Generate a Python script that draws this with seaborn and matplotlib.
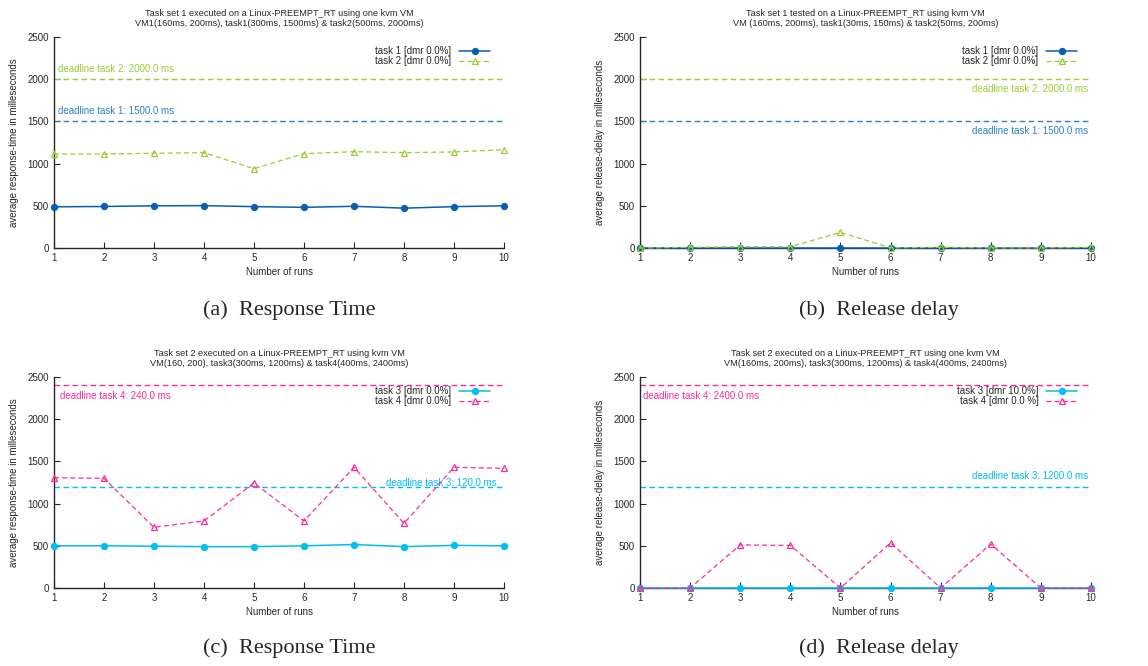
import matplotlib
matplotlib.use("Agg")
import matplotlib.pyplot as plt
import seaborn as sns
import pandas as pd

sns.set_style("ticks")
plt.rcParams['font.family'] = ['Liberation Sans', 'DejaVu Sans']

runs = list(range(1, 11))

# (a) response time, task set 1
rt_task1 = [488, 492, 500, 502, 490, 482, 494, 472, 490, 500]
rt_task2 = [1114, 1114, 1122, 1130, 940, 1118, 1141, 1130, 1138, 1165]
# (b) release delay, task set 1
rd_task1 = [0, 0, 0, 0, 0, 0, 0, 0, 0, 0]
rd_task2 = [0, 8, 15, 15, 185, 2, 8, 2, 2, 8]
# (c) response time, task set 2
rt_task3 = [500, 500, 495, 490, 490, 500, 515, 490, 505, 500]
rt_task4 = [1307, 1299, 719, 794, 1244, 794, 1430, 766, 1430, 1418]
# (d) release delay, task set 2
rd_task3 = [0, 0, 0, 0, 0, 0, 0, 0, 0, 0]
rd_task4 = [0, 0, 510, 505, 0, 535, 0, 520, 0, 0]

C_T1, C_D1 = "#0a5fad", "#2a80cc"
C_T2 = "#9acd32"
C_T3 = "#00bfef"
C_T4 = "#ff2a9a"

W, H = 1148, 666
fig = plt.figure(figsize=(W / 100, H / 100), dpi=100)


def make_ax(x0, y0, x1, y1):
    return fig.add_axes([x0 / W, 1 - y1 / H, (x1 - x0) / W, (y1 - y0) / H])


def draw(ax, title, ylabel, s1, s2, labels, colors, deadlines):
    df = pd.DataFrame({"run": runs, "a": s1, "b": s2})
    ax.axhline(deadlines[0][0], color=deadlines[0][1], lw=1, dashes=(4, 2.5))
    ax.axhline(deadlines[1][0], color=deadlines[1][1], lw=1, dashes=(4, 2.5))
    sns.lineplot(data=df, x="run", y="a", ax=ax, color=colors[0], lw=1.1,
                 marker="o", markersize=4.5, markeredgecolor=colors[0],
                 label=labels[0], clip_on=False, zorder=4)
    sns.lineplot(data=df, x="run", y="b", ax=ax, color=colors[1], lw=0.9,
                 marker="^", markersize=5, markerfacecolor="none",
                 markeredgecolor=colors[1], markeredgewidth=0.9,
                 label=labels[1], clip_on=False, zorder=4)
    ax.lines[-1].set_dashes((4, 2.5))
    ax.set_xlim(1, 10)
    ax.set_ylim(0, 2500)
    ax.set_xticks(runs)
    ax.set_yticks(range(0, 2501, 500))
    ax.tick_params(direction="in", length=4, labelsize=7, width=0.8)
    for s in ["top", "right"]:
        ax.spines[s].set_visible(False)
    for s in ["left", "bottom"]:
        ax.spines[s].set_linewidth(1.0)
    ax.set_title(title, fontsize=6.6, pad=8, linespacing=1.1)
    ax.set_xlabel("Number of runs", fontsize=7, labelpad=3)
    ax.set_ylabel(ylabel, fontsize=7, labelpad=6)
    leg = ax.legend(loc="upper right", frameon=False, markerfirst=False,
                    fontsize=7, handlelength=3.2, labelspacing=0.05,
                    borderaxespad=0.3, bbox_to_anchor=(0.985, 0.99))
    for t in leg.get_texts():
        t.set_ha("right")


ax_a = make_ax(54, 37, 504, 248)
draw(ax_a, "Task set 1 executed on a Linux-PREEMPT_RT using one kvm VM\n"
     "VM1(160ms, 200ms), task1(300ms, 1500ms) & task2(500ms, 2000ms)",
     "average response-time in milleseconds",
     rt_task1, rt_task2, ["task 1 [dmr 0.0%]", "task 2 [dmr 0.0%]"],
     [C_T1, C_T2], [(1500, C_D1), (2000, C_T2)])
ax_a.text(1.07, 2060, "deadline task 2: 2000.0 ms", color=C_T2, fontsize=7, va="bottom")
ax_a.text(1.07, 1560, "deadline task 1: 1500.0 ms", color=C_D1, fontsize=7, va="bottom")

ax_b = make_ax(640, 37, 1091, 248)
draw(ax_b, "Task set 1 tested on a Linux-PREEMPT_RT using kvm VM\n"
     "VM (160ms, 200ms), task1(30ms, 150ms) & task2(50ms, 200ms)",
     "average release-delay in milleseconds",
     rd_task1, rd_task2, ["task 1 [dmr 0.0%]", "task 2 [dmr 0.0%]"],
     [C_T1, C_T2], [(1500, C_D1), (2000, C_T2)])
ax_b.text(9.95, 1940, "deadline task 2: 2000.0 ms", color=C_T2, fontsize=7, va="top", ha="right")
ax_b.text(9.95, 1440, "deadline task 1: 1500.0 ms", color=C_D1, fontsize=7, va="top", ha="right")

ax_c = make_ax(54, 377, 504, 588)
draw(ax_c, "Task set 2 executed on a Linux-PREEMPT_RT using kvm VM\n"
     "VM(160, 200), task3(300ms, 1200ms) & task4(400ms, 2400ms)",
     "average response-time in milleseconds",
     rt_task3, rt_task4, ["task 3 [dmr 0.0%]", "task 4 [dmr 0.0%]"],
     [C_T3, C_T4], [(1200, C_T3), (2400, C_T4)])
ax_c.text(1.12, 2340, "deadline task 4: 240.0 ms", color=C_T4, fontsize=7, va="top")
ax_c.text(9.85, 1190, "deadline task 3: 120.0 ms", color=C_T3, fontsize=7, va="bottom", ha="right")

ax_d = make_ax(640, 377, 1091, 588)
draw(ax_d, "Task set 2 executed on a Linux-PREEMPT_RT using one kvm VM\n"
     "VM(160ms, 200ms), task3(300ms, 1200ms) & task4(400ms, 2400ms)",
     "average release-delay in milleseconds",
     rd_task3, rd_task4, ["task 3 [dmr 10.0%]", "task 4 [dmr 0.0 %]"],
     [C_T3, C_T4], [(1200, C_T3), (2400, C_T4)])
ax_d.text(1.05, 2340, "deadline task 4: 2400.0 ms", color=C_T4, fontsize=7, va="top")
ax_d.text(9.95, 1270, "deadline task 3: 1200.0 ms", color=C_T3, fontsize=7, va="bottom", ha="right")

captions = [(289, 310, "(a)  Response Time"), (879, 310, "(b)  Release delay"),
            (289, 648, "(c)  Response Time"), (879, 648, "(d)  Release delay")]
for cx, cy, txt in captions:
    fig.text(cx / W, 1 - cy / H, txt, ha="center", va="center",
             fontsize=16, family=["Liberation Serif", "DejaVu Serif"])

fig.savefig("out.png", dpi=100)
